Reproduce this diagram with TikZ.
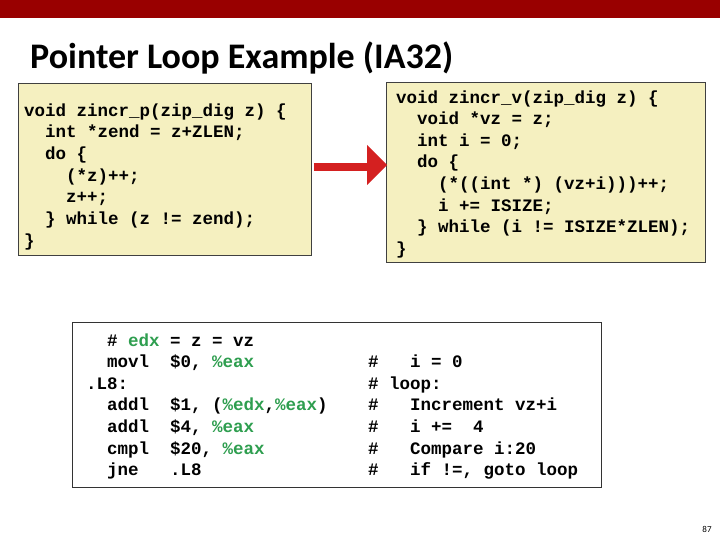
\documentclass[tikz,border=0pt]{standalone}
\usepackage{fontspec}
\setmainfont{Carlito}
\newfontfamily\cf{Liberation Mono}
\definecolor{bar}{HTML}{990000}
\definecolor{ylw}{HTML}{F5F0C0}
\definecolor{grn}{HTML}{2E9E4F}
\definecolor{arr}{HTML}{D42020}
\begin{document}
\begin{tikzpicture}[x=1pt,y=-1pt,
  code/.style={anchor=base west,inner sep=0pt,font=\cf\bfseries\fontsize{17.5}{20}\selectfont},
  box/.style={draw=black!75,line width=0.8pt,fill=ylw}]
\useasboundingbox (0,0) rectangle (720,540);
\fill[bar] (0,0) rectangle (720,18);
\node[anchor=base west,inner sep=0pt,font=\bfseries\fontsize{36}{40}\selectfont] (title) at (30,69) {Pointer Loop Example (IA32)};
\node[box,minimum width=293pt,minimum height=172pt,anchor=north west] (L) at (18,83) {};
\node[box,minimum width=319pt,minimum height=180pt,anchor=north west] (R) at (386,82) {};
\node[draw=black!80,line width=1pt,fill=white,minimum width=529pt,minimum height=165pt,anchor=north west] (B) at (72,322) {};
\draw[arr,line width=8pt] (L.east) ++(2,-2) coordinate (a1) -- ++(55,0) coordinate (a2);
\fill[arr] (367,145) -- (387,165) -- (367,185) -- cycle;
\foreach \t [count=\i] in {void zincr\_p(zip\_dig z) \{,
  \ \ int *zend = z+ZLEN;,\ \ do \{,\ \ \ \ (*z)++;,\ \ \ \ z++;,\ \ \} while (z != zend);,\}}
  \node[code] (l\i) at (24,{94.5+21.7*\i}) {\t};
\foreach \t [count=\i] in {void zincr\_v(zip\_dig z) \{,
  \ \ void *vz = z;,\ \ int i = 0;,\ \ do \{,\ \ \ \ (*((int *) (vz+i)))++;,\ \ \ \ i += ISIZE;,\ \ \} while (i != ISIZE*ZLEN);,\}}
  \node[code] (r\i) at (396,{81.5+21.6*\i}) {\t};
\node[code] (b1) at (107,346) {\# \textcolor{grn}{edx} = z = vz};
\node[code] (b2) at (107,367) {movl\ \ \$0, \textcolor{grn}{\%eax}};
\node[code] (b3) at (86,389) {.L8:};
\node[code] (b4) at (107,410) {addl\ \ \$1, (\textcolor{grn}{\%edx},\textcolor{grn}{\%eax})};
\node[code] (b5) at (107,432) {addl\ \ \$4, \textcolor{grn}{\%eax}};
\node[code] (b6) at (107,454) {cmpl\ \ \$20, \textcolor{grn}{\%eax}};
\node[code] (b7) at (107,475) {jne\ \ \ .L8};
\node[code] (c2) at (368,367) {\#\ \ \ i = 0};
\node[code] (c3) at (368,389) {\# loop:};
\node[code] (c4) at (368,410) {\#\ \ \ Increment vz+i};
\node[code] (c5) at (368,432) {\#\ \ \ i +=\ \ 4};
\node[code] (c6) at (368,454) {\#\ \ \ Compare i:20};
\node[code] (c7) at (368,475) {\#\ \ \ if !=, goto loop};
\node[font=\fontsize{9}{10}\selectfont,inner sep=0pt] (pg) at (707,529) {87};
\end{tikzpicture}
\end{document}
